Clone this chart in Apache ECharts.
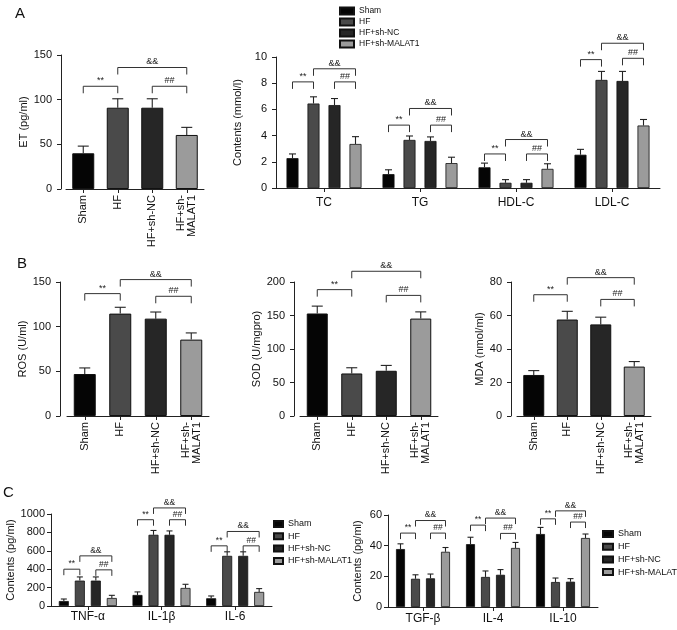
<!DOCTYPE html>
<html><head><meta charset="utf-8">
<script src="https://cdn.jsdelivr.net/npm/echarts@6/dist/echarts.min.js"></script>
<style>html,body{margin:0;padding:0;background:#fff}#c{width:677px;height:630px}</style>
</head><body><div id="c"></div>
<script>
// ---------- data ----------
const groups = ['Sham', 'HF', 'HF+sh-NC', 'HF+sh-MALAT1'];
const groupLabels = ['Sham', 'HF', 'HF+sh-NC', 'HF+sh-\nMALAT1'];
const sigLabels = ['**', '&&', '##'];

// Panel A (left): ET
const etMean = [40, 91, 91, 60.5];
const etErr = [8, 10, 10, 8.5];
const etTicks = [0, 50, 100, 150];
const etSig = [115, 136, 115];           // ** (Sham-HF), && (HF-MALAT1), ## (NC-MALAT1)

// Panel A (right): lipids
const lipidCats = ['TC', 'TG', 'HDL-C', 'LDL-C'];
const lipidSham = [2.28, 1.06, 1.58, 2.54];
const lipidShamErr = [0.32, 0.33, 0.32, 0.41];
const lipidHF = [6.45, 3.67, 0.40, 8.25];
const lipidHFErr = [0.51, 0.30, 0.24, 0.65];
const lipidNC = [6.33, 3.59, 0.40, 8.17];
const lipidNCErr = [0.50, 0.31, 0.24, 0.73];
const lipidMAL = [3.36, 1.90, 1.46, 4.77];
const lipidMALErr = [0.56, 0.45, 0.39, 0.46];
const lipidTicks = [0, 2, 4, 6, 8, 10];
const lipidSig = [[8.1, 9.1, 8.1], [4.8, 6.07, 4.8], [2.6, 3.7, 2.6], [9.8, 11.05, 9.9]];

// Panel B
const rosMean = [47, 114.6, 109, 85.5];
const rosErr = [6.8, 7.1, 7.4, 7.5];
const rosTicks = [0, 50, 100, 150];
const rosSig = [137, 152.7, 134];

const sodMean = [153, 63.5, 67.5, 145.4];
const sodErr = [11, 8.5, 8, 10];
const sodTicks = [0, 50, 100, 150, 200];
const sodSig = [188.6, 216, 180];

const mdaMean = [24.5, 57.6, 54.7, 29.5];
const mdaErr = [2.6, 4.9, 4.3, 3];
const mdaTicks = [0, 20, 40, 60, 80];
const mdaSig = [72.4, 82.6, 69.6];

// Panel C (left): pro-inflammatory
const infCats = ['TNF-α', 'IL-1β', 'IL-6'];
const infSham = [54, 120, 84];
const infShamErr = [22, 33, 25];
const infHF = [276, 774, 545];
const infHFErr = [40, 47, 44];
const infNC = [276, 774, 545];
const infNCErr = [40, 42, 44];
const infMAL = [87, 196, 153];
const infMALErr = [29, 40, 36];
const infTicks = [0, 200, 400, 600, 800, 1000];
const infSig = [[400, 545, 393], [938, 1066, 938], [654, 810, 654]];

// Panel C (right): anti-inflammatory
const antiCats = ['TGF-β', 'IL-4', 'IL-10'];
const antiSham = [37.8, 41, 47.6];
const antiShamErr = [3.4, 4.5, 4.3];
const antiHF = [18.4, 19.6, 16.3];
const antiHFErr = [2.6, 3.9, 2.6];
const antiNC = [18.7, 21, 16.5];
const antiNCErr = [2.8, 3.4, 2.0];
const antiMAL = [36, 38.5, 45];
const antiMALErr = [2.8, 3.6, 2.6];
const antiTicks = [0, 20, 40, 60];
const antiSig = [[48.2, 56.4, 48.2], [53.4, 58, 48], [57.5, 62.7, 55.4]];

// ---------- style ----------
const colors = ['#050505', '#4a4a4a', '#262626', '#9b9b9b'];
const FONT = 'Liberation Sans, Arial, Helvetica, sans-serif';
const AX = '#222';

const chart = echarts.init(document.getElementById('c'), null, {renderer: 'canvas'});

const grids = [], xAxes = [], yAxes = [], series = [];

function addPanel(cfg) {
  const gi = grids.length;
  grids.push({left: cfg.left, top: cfg.top, width: cfg.width, height: cfg.height, containLabel: false});
  const t = cfg.ticks;
  yAxes.push({
    type: 'value', gridIndex: gi, min: t[0], max: t[t.length - 1], interval: t[1] - t[0],
    offset: cfg.offset || 0,
    name: cfg.yName, nameLocation: 'middle', nameGap: cfg.nameGap,
    nameTextStyle: {fontSize: 11, color: '#111', fontFamily: FONT},
    axisLine: {show: true, lineStyle: {color: AX, width: 1}},
    axisTick: {show: true, length: 4, lineStyle: {color: AX, width: 1}},
    splitLine: {show: false},
    axisLabel: {fontSize: 11, color: '#111', margin: cfg.yMargin || 9, fontFamily: FONT,
      formatter: v => String(v)}
  });
  xAxes.push({
    type: 'category', gridIndex: gi, data: cfg.cats,
    axisLine: {show: true, lineStyle: {color: AX, width: 1}},
    axisTick: {show: true, alignWithLabel: true, length: 4, lineStyle: {color: AX}},
    axisLabel: Object.assign({fontSize: 11, color: '#111', interval: 0, fontFamily: FONT}, cfg.xLabel || {})
  });
  return gi;
}

function errSeries(gi, items, barW, gapPx, nGroups, capW) {
  return {
    type: 'custom', xAxisIndex: gi, yAxisIndex: gi, clip: false, z: 5, silent: true,
    encode: {x: 0, y: 2}, data: items,
    renderItem(params, api) {
      const cat = api.value(0), g = api.value(1), m = api.value(2), e = api.value(3);
      const b = api.coord([cat, m]);
      const t = api.coord([cat, m + e]);
      const cx = b[0] + (g - (nGroups - 1) / 2) * (barW + gapPx);
      const st = {stroke: '#222', lineWidth: 1.1};
      return {type: 'group', children: [
        {type: 'line', shape: {x1: cx, y1: b[1], x2: cx, y2: t[1]}, style: st},
        {type: 'line', shape: {x1: cx - capW / 2, y1: t[1], x2: cx + capW / 2, y2: t[1]}, style: st}
      ]};
    }
  };
}

function sigSeries(gi, items, barW, gapPx, nGroups, drop, fs) {
  // items: [catA, groupA, catB, groupB, y, labelIndex]
  return {
    type: 'custom', xAxisIndex: gi, yAxisIndex: gi, clip: false, z: 6, silent: true,
    encode: {x: 0, y: 4}, data: items,
    renderItem(params, api) {
      const off = g => (g - (nGroups - 1) / 2) * (barW + gapPx);
      const y = api.value(4);
      const pa = api.coord([api.value(0), y]);
      const pb = api.coord([api.value(2), y]);
      const xa = pa[0] + off(api.value(1)), xb = pb[0] + off(api.value(3));
      const py = pa[1];
      return {type: 'group', children: [
        {type: 'polyline', shape: {points: [[xa, py + drop], [xa, py], [xb, py], [xb, py + drop]]},
         style: {stroke: '#333', fill: null, lineWidth: 1}},
        {type: 'text', x: (xa + xb) / 2, y: py - 1,
         style: {text: sigLabels[api.value(5)], fontSize: fs, fill: '#222', align: 'center', verticalAlign: 'bottom', fontFamily: FONT}}
      ]};
    }
  };
}

// single-category panel (4 bars, one per group)
function singlePanel(cfg, mean, err, sig) {
  const gi = addPanel(Object.assign({cats: groupLabels,
    xLabel: {rotate: 90, fontSize: 11, lineHeight: 11, margin: 6}}, cfg));
  series.push({
    type: 'bar', name: cfg.sname, xAxisIndex: gi, yAxisIndex: gi, barWidth: cfg.barW,
    data: mean.map((v, k) => ({value: v, itemStyle: {color: colors[k]}})),
    itemStyle: {borderColor: '#111', borderWidth: 1}
  });
  series.push(errSeries(gi, mean.map((v, k) => [k, 0, v, err[k]]), cfg.barW, 0, 1, 11));
  const pairs = [[0, 1], [1, 3], [2, 3]];
  series.push(sigSeries(gi, pairs.map((p, k) => [p[0], 0, p[1], 0, sig[k], k]), cfg.barW, 0, 1, 7, 9));
}

// grouped panel
function groupedPanel(cfg, means, errs, sig) {
  const gi = addPanel(cfg);
  const gapPct = (cfg.gapPx / cfg.barW * 100) + '%';
  means.forEach((arr, g) => {
    series.push({
      type: 'bar', name: groups[g], xAxisIndex: gi, yAxisIndex: gi,
      barWidth: cfg.barW, barGap: gapPct, data: arr,
      itemStyle: {color: colors[g], borderColor: '#111', borderWidth: 0.8}
    });
  });
  const eItems = [];
  means.forEach((arr, g) => arr.forEach((v, c) => eItems.push([c, g, v, errs[g][c]])));
  series.push(errSeries(gi, eItems, cfg.barW, cfg.gapPx, 4, cfg.capW));
  const pairs = [[0, 1], [1, 3], [2, 3]];
  const sItems = [];
  sig.forEach((ys, c) => ys.forEach((y, k) => sItems.push([c, pairs[k][0], c, pairs[k][1], y, k])));
  series.push(sigSeries(gi, sItems, cfg.barW, cfg.gapPx, 4, cfg.drop, cfg.sigFs));
}

// ---------- panels ----------
singlePanel({left: 66, top: 55, width: 138, height: 134, offset: 5, ticks: etTicks,
  yName: 'ET (pg/ml)', nameGap: 30, barW: 22, sname: 'ET'}, etMean, etErr, etSig);

groupedPanel({left: 276, top: 57, width: 384, height: 131, ticks: lipidTicks, cats: lipidCats,
  yName: 'Contents (mmol/l)', nameGap: 17, barW: 12, gapPx: 9, capW: 7, drop: 7, sigFs: 9,
  xLabel: {fontSize: 12, margin: 9}},
  [lipidSham, lipidHF, lipidNC, lipidMAL], [lipidShamErr, lipidHFErr, lipidNCErr, lipidMALErr], lipidSig);

singlePanel({left: 67, top: 282, width: 142, height: 134, offset: 7, ticks: rosTicks,
  yName: 'ROS (U/ml)', nameGap: 31, barW: 22, sname: 'ROS'}, rosMean, rosErr, rosSig);

singlePanel({left: 300, top: 282, width: 138, height: 134, offset: 6, ticks: sodTicks,
  yName: 'SOD (U/mgpro)', nameGap: 29, barW: 21, sname: 'SOD'}, sodMean, sodErr, sodSig);

singlePanel({left: 517, top: 282, width: 134, height: 134, offset: 6, ticks: mdaTicks,
  yName: 'MDA (nmol/ml)', nameGap: 22, barW: 21, sname: 'MDA'}, mdaMean, mdaErr, mdaSig);

groupedPanel({left: 51, top: 514, width: 221, height: 92, ticks: infTicks, cats: infCats,
  yName: 'Contents (pg/ml)', nameGap: 27, barW: 10, gapPx: 6, capW: 6, drop: 6, sigFs: 8.5, yMargin: 6,
  xLabel: {fontSize: 12, margin: 5}},
  [infSham, infHF, infNC, infMAL], [infShamErr, infHFErr, infNCErr, infMALErr], infSig);

groupedPanel({left: 388, top: 515, width: 210, height: 92, ticks: antiTicks, cats: antiCats,
  yName: 'Contents (pg/ml)', nameGap: 25, barW: 9, gapPx: 6, capW: 6, drop: 6, sigFs: 8.5, yMargin: 6,
  xLabel: {fontSize: 12, margin: 6}},
  [antiSham, antiHF, antiNC, antiMAL], [antiShamErr, antiHFErr, antiNCErr, antiMALErr], antiSig);

const legendBase = {orient: 'vertical', icon: 'rect', data: groups, selectedMode: false, padding: 0};

chart.setOption({
  animation: false,
  textStyle: {fontFamily: FONT},
  grid: grids, xAxis: xAxes, yAxis: yAxes, series: series,
  legend: [
    Object.assign({}, legendBase, {left: 339, top: 6, itemWidth: 14, itemHeight: 7, itemGap: 1,
      textStyle: {fontSize: 8.5, color: '#111', lineHeight: 10}}),
    Object.assign({}, legendBase, {left: 273, top: 519, itemWidth: 9, itemHeight: 6, itemGap: 2.3,
      textStyle: {fontSize: 9, color: '#111', lineHeight: 10}}),
    Object.assign({}, legendBase, {left: 602, top: 529, itemWidth: 10, itemHeight: 6, itemGap: 2.7,
      textStyle: {fontSize: 9, color: '#111', lineHeight: 10}})
  ],
  graphic: [
    {type: 'text', left: 15, top: 6, style: {text: 'A', fontSize: 15, fill: '#111', fontFamily: FONT}},
    {type: 'text', left: 17, top: 256, style: {text: 'B', fontSize: 15, fill: '#111', fontFamily: FONT}},
    {type: 'text', left: 3, top: 485, style: {text: 'C', fontSize: 15, fill: '#111', fontFamily: FONT}}
  ]
});
</script>
</body></html>
